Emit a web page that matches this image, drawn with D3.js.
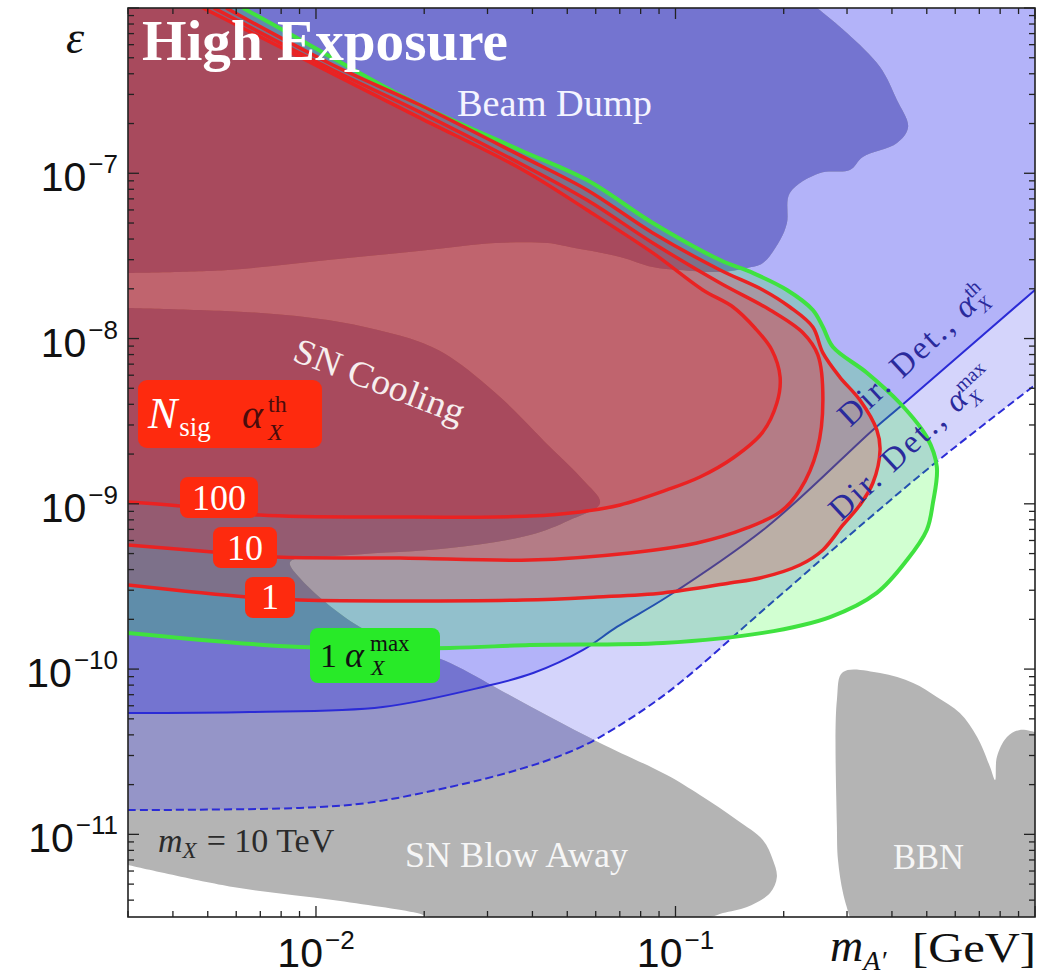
<!DOCTYPE html>
<html><head><meta charset="utf-8">
<script src="https://cdn.jsdelivr.net/npm/d3@7"></script>
<style>body{margin:0;background:#fff}svg{display:block}</style>
</head><body>
<svg id="chart" width="1059" height="979"></svg>
<script>
// ---------- DATA (log10 of m_A' in GeV, log10 of epsilon) ----------
const xDomain = [0.003, 1];
const yDomain = [Math.pow(10, -11.5), 1e-6];
const xMajorTicks = [1e-2, 1e-1];
const xTickExps = ["\u22122", "\u22121"];
const yMajorTicks = [1e-11, 1e-10, 1e-9, 1e-8, 1e-7];
const yTickExps = ["\u221211", "\u221210", "\u22129", "\u22128", "\u22127"];

const contour100 = [[-2.314,-6.000],[-1.947,-6.405],[-1.711,-6.665],[-1.424,-6.980],[-1.246,-7.222],[-1.063,-7.482],[-0.924,-7.706],[-0.840,-7.809],[-0.779,-7.936],[-0.732,-8.069],[-0.709,-8.233],[-0.718,-8.390],[-0.759,-8.571],[-0.840,-8.723],[-0.932,-8.838],[-1.024,-8.916],[-1.154,-9.007],[-1.266,-9.049],[-1.405,-9.074],[-1.766,-9.080],[-2.156,-9.068],[-2.378,-9.013],[-2.523,-8.989]];
const contour10 = [[-2.284,-6.000],[-1.953,-6.375],[-1.711,-6.629],[-1.424,-6.950],[-1.246,-7.162],[-1.063,-7.422],[-0.876,-7.664],[-0.737,-7.827],[-0.645,-7.966],[-0.604,-8.099],[-0.590,-8.372],[-0.606,-8.674],[-0.654,-8.916],[-0.709,-9.049],[-0.801,-9.146],[-0.940,-9.237],[-1.127,-9.297],[-1.405,-9.340],[-1.766,-9.328],[-2.109,-9.322],[-2.287,-9.291],[-2.523,-9.249]];
const contour1 = [[-2.250,-6.000],[-1.953,-6.345],[-1.711,-6.587],[-1.424,-6.901],[-1.246,-7.101],[-1.063,-7.361],[-0.876,-7.585],[-0.757,-7.706],[-0.682,-7.809],[-0.618,-7.930],[-0.590,-8.087],[-0.543,-8.233],[-0.487,-8.372],[-0.440,-8.553],[-0.431,-8.674],[-0.451,-8.874],[-0.487,-9.007],[-0.534,-9.128],[-0.590,-9.279],[-0.654,-9.370],[-0.765,-9.449],[-0.849,-9.479],[-1.035,-9.539],[-1.218,-9.564],[-1.424,-9.582],[-2.045,-9.582],[-2.192,-9.564],[-2.523,-9.491]];
const contourMax = [[-2.203,-6.000],[-2.045,-6.190],[-1.739,-6.557],[-1.433,-6.859],[-1.246,-7.041],[-1.063,-7.301],[-0.876,-7.525],[-0.785,-7.603],[-0.690,-7.706],[-0.618,-7.827],[-0.590,-7.930],[-0.562,-8.051],[-0.467,-8.208],[-0.376,-8.390],[-0.301,-8.596],[-0.273,-8.777],[-0.284,-8.995],[-0.301,-9.158],[-0.356,-9.340],[-0.440,-9.539],[-0.570,-9.685],[-0.757,-9.781],[-1.035,-9.842],[-1.405,-9.854],[-1.627,-9.872],[-2.045,-9.866],[-2.523,-9.781]];
const dirDetTh = [[-2.523,-10.266],[-2.184,-10.260],[-1.814,-10.229],[-1.536,-10.108],[-1.396,-10.024],[-1.257,-9.884],[-1.163,-9.745],[-1.024,-9.564],[-0.746,-9.140],[-0.451,-8.553],[-0.376,-8.414],[0.000,-7.706]];
const dirDetMax = [[-2.523,-10.853],[-2.045,-10.840],[-1.858,-10.810],[-1.627,-10.713],[-1.441,-10.611],[-1.302,-10.508],[-1.210,-10.411],[-1.024,-10.145],[-0.746,-9.624],[-0.467,-9.098],[-0.278,-8.753],[0.000,-8.281]];
const beamDump = [[-0.606,-6.000],[-0.523,-6.151],[-0.431,-6.357],[-0.384,-6.557],[-0.353,-6.720],[-0.384,-6.817],[-0.479,-6.901],[-0.515,-6.980],[-0.598,-6.998],[-0.682,-7.119],[-0.690,-7.301],[-0.709,-7.404],[-0.757,-7.543],[-0.801,-7.573],[-0.876,-7.597],[-0.988,-7.585],[-1.063,-7.567],[-1.154,-7.506],[-1.294,-7.446],[-1.355,-7.422],[-1.502,-7.422],[-1.689,-7.464],[-1.967,-7.525],[-2.245,-7.585],[-2.523,-7.603]];
const snRegion = [[-2.523,-7.815],[-2.153,-7.845],[-1.967,-7.888],[-1.828,-7.948],[-1.711,-8.021],[-1.627,-8.112],[-1.488,-8.354],[-1.349,-8.656],[-1.257,-8.856],[-1.210,-8.995],[-1.294,-9.098],[-1.405,-9.189],[-1.627,-9.267],[-1.906,-9.310],[-2.072,-9.352],[-2.045,-9.449],[-1.878,-9.745],[-1.627,-9.963],[-1.488,-10.126],[-1.349,-10.290],[-1.210,-10.447],[-1.024,-10.641],[-0.932,-10.762],[-0.829,-10.913],[-0.757,-11.034],[-0.729,-11.155],[-0.718,-11.258],[-0.737,-11.355],[-0.801,-11.439],[-0.868,-11.476],[-0.904,-11.500],[-1.683,-11.500],[-1.719,-11.476],[-1.953,-11.397],[-2.231,-11.318],[-2.523,-11.185]];
const bbn = [[-0.515,-11.500],[-0.534,-11.355],[-0.548,-11.155],[-0.551,-10.955],[-0.551,-10.187],[-0.534,-10.018],[-0.431,-10.024],[-0.339,-10.084],[-0.273,-10.169],[-0.209,-10.266],[-0.161,-10.411],[-0.125,-10.592],[-0.111,-10.671],[-0.106,-10.532],[-0.078,-10.411],[-0.042,-10.368],[0.000,-10.381]];

// ---------- SETUP ----------
const svg = d3.select("#chart");
const defs = svg.append("defs");
const X0 = 128, X1 = 1035, Y0 = 8, Y1 = 917;
const x = d3.scaleLog().domain(xDomain).range([X0, X1]);
const y = d3.scaleLog().domain(yDomain).range([Y1, Y0]);
const px = d => x(Math.pow(10, d[0])), py = d => y(Math.pow(10, d[1]));
const smooth = d3.line().x(px).y(py).curve(d3.curveCatmullRom.alpha(0.5));
const lin = pts => pts.map(p => "L" + px(p) + "," + py(p)).join("");
const region = (pts, close) => smooth(pts) + lin(close) + "Z";
const lx0 = Math.log10(xDomain[0]), lx1 = Math.log10(xDomain[1]);
const ly0 = Math.log10(yDomain[0]), ly1 = Math.log10(yDomain[1]);
const TL = [lx0, ly1], TR = [lx1, ly1], BR = [lx1, ly0];

defs.append("clipPath").attr("id", "plotClip").append("rect")
  .attr("x", X0).attr("y", Y0).attr("width", X1 - X0).attr("height", Y1 - Y0);
const pathA = region(dirDetMax, [TR, TL]);
const pathB = region(dirDetTh, [TR, TL]);
defs.append("clipPath").attr("id", "clipA").append("path").attr("d", pathA);
defs.append("clipPath").attr("id", "clipB").append("path").attr("d", pathB);

const plot = svg.append("g").attr("clip-path", "url(#plotClip)");
plot.append("rect").attr("x", X0).attr("y", Y0).attr("width", X1 - X0).attr("height", Y1 - Y0).attr("fill", "#fff");
plot.append("path").attr("d", pathA).attr("fill", "#d4d4fb");
plot.append("path").attr("d", pathB).attr("fill", "#b3b3f9");

const grayPaths = [region(beamDump, [TL]), region(snRegion, []), region(bbn, [BR])];
const grayLayers = [["#b4b4b4", null], ["#9595c8", "url(#clipA)"], ["#7474d0", "url(#clipB)"]];
grayLayers.forEach(([col, clip]) => {
  const g = plot.append("g");
  if (clip) g.attr("clip-path", clip);
  grayPaths.forEach(d => g.append("path").attr("d", d).attr("fill", col));
});

// direct detection lines
plot.append("path").attr("d", smooth(dirDetTh)).attr("fill", "none").attr("stroke", "#2b2bd6").attr("stroke-width", 2);
plot.append("path").attr("d", smooth(dirDetMax)).attr("fill", "none").attr("stroke", "#2b2bd6").attr("stroke-width", 2).attr("stroke-dasharray", "8,4");

// translucent signal regions
plot.append("path").attr("d", region(contourMax, [TL])).attr("fill", "rgb(0,255,0)").attr("fill-opacity", 0.18);
[contour1, contour10, contour100].forEach(c =>
  plot.append("path").attr("d", region(c, [TL])).attr("fill", "rgb(240,8,19)").attr("fill-opacity", 0.206));

plot.append("path").attr("d", smooth(contourMax)).attr("fill", "none").attr("stroke", "#3fe23f").attr("stroke-width", 4);
[contour1, contour10, contour100].forEach(c =>
  plot.append("path").attr("d", smooth(c)).attr("fill", "none").attr("stroke", "#ea2222").attr("stroke-width", 3.5));

// ---------- TEXT IN PLOT ----------
const serif = "'Liberation Serif','DejaVu Serif',serif";
const sans = "'Liberation Sans',Arial,sans-serif";
const ann = svg.append("g").attr("font-family", serif);

ann.append("text").attr("x", 142).attr("y", 60).attr("font-size", 56).attr("font-weight", "bold")
  .attr("fill", "#fff").attr("textLength", 366).attr("lengthAdjust", "spacingAndGlyphs").text("High Exposure");
ann.append("text").attr("x", 457).attr("y", 116).attr("font-size", 38).attr("fill", "#f4f4ff")
  .attr("textLength", 195).attr("lengthAdjust", "spacingAndGlyphs").text("Beam Dump");
ann.append("text").attr("transform", "translate(379,382) rotate(21)").attr("text-anchor", "middle").attr("y", 11)
  .attr("font-size", 36).attr("fill", "#f6eeee").attr("textLength", 180).attr("lengthAdjust", "spacingAndGlyphs").text("SN Cooling");
ann.append("text").attr("x", 405).attr("y", 867).attr("font-size", 36).attr("fill", "#f6f6f6")
  .attr("textLength", 223).attr("lengthAdjust", "spacingAndGlyphs").text("SN Blow Away");
ann.append("text").attr("x", 893).attr("y", 869).attr("font-size", 36).attr("fill", "#f6f6f6")
  .attr("textLength", 71).attr("lengthAdjust", "spacingAndGlyphs").text("BBN");

const mx = ann.append("text").attr("x", 158).attr("y", 852).attr("font-size", 34).attr("fill", "#2b2b2b");
mx.append("tspan").attr("font-style", "italic").text("m");
mx.append("tspan").attr("font-style", "italic").attr("font-size", 23).attr("dy", 6).text("X");
mx.append("tspan").attr("dy", -6).attr("dx", 10).text("= 10 TeV");

function dirLabel(tx, ty, sup) {
  const t = ann.append("text").attr("transform", `translate(${tx},${ty}) rotate(-43)`)
    .attr("font-size", 33).attr("fill", "#2a2a9c");
  t.append("tspan").attr("letter-spacing", 2.5).text("Dir. Det., ");
  t.append("tspan").attr("font-style", "italic").text("\u03b1");
  t.append("tspan").attr("font-style", "italic").attr("font-size", 20).attr("dy", 8).attr("dx", 1).text("X");
  t.append("tspan").attr("font-size", 20).attr("dy", -20).attr("dx", -13).text(sup);
}
dirLabel(850, 428, "th");
dirLabel(841, 522, "max");

// label boxes
const boxRed = "#fe2a0e";
ann.append("rect").attr("x", 138).attr("y", 380).attr("width", 184).attr("height", 68).attr("rx", 9).attr("fill", boxRed);
const ns = ann.append("text").attr("x", 148).attr("y", 428).attr("fill", "#fff");
ns.append("tspan").attr("font-style", "italic").attr("font-size", 44).text("N");
ns.append("tspan").attr("font-size", 27).attr("dy", 8).attr("dx", 2).text("sig");
ann.append("text").attr("x", 242).attr("y", 428).attr("font-size", 40).attr("font-style", "italic").attr("fill", "#4a0c0c").text("\u03b1");
ann.append("text").attr("x", 268).attr("y", 412).attr("font-size", 24).attr("fill", "#4a0c0c").text("th");
ann.append("text").attr("x", 268).attr("y", 440).attr("font-size", 24).attr("font-style", "italic").attr("fill", "#4a0c0c").text("X");

const nBoxes = [["100", 180, 477, 78, 510], ["10", 213, 527, 64, 560], ["1", 245, 577, 50, 609]];
nBoxes.forEach(([lab, bx, by, bw, base]) => {
  ann.append("rect").attr("x", bx).attr("y", by).attr("width", bw).attr("height", 41).attr("rx", 8).attr("fill", boxRed);
  ann.append("text").attr("x", bx + bw / 2).attr("y", base).attr("text-anchor", "middle")
    .attr("font-size", 36).attr("fill", "#fff").text(lab);
});

ann.append("rect").attr("x", 310).attr("y", 628).attr("width", 130).attr("height", 55).attr("rx", 8).attr("fill", "#28ea28");
ann.append("text").attr("x", 320).attr("y", 667).attr("font-size", 34).attr("fill", "#111").text("1");
ann.append("text").attr("x", 345).attr("y", 667).attr("font-size", 36).attr("font-style", "italic").attr("fill", "#111").text("\u03b1");
ann.append("text").attr("x", 370).attr("y", 651).attr("font-size", 23).attr("fill", "#111").text("max");
ann.append("text").attr("x", 371).attr("y", 675).attr("font-size", 22).attr("font-style", "italic").attr("fill", "#111").text("X");

// ---------- FRAME, TICKS, AXIS LABELS ----------
const axes = svg.append("g");
axes.append("rect").attr("x", X0).attr("y", Y0).attr("width", X1 - X0).attr("height", Y1 - Y0)
  .attr("fill", "none").attr("stroke", "#222").attr("stroke-width", 1.6);
const isMajor = v => Math.abs(Math.log10(v) - Math.round(Math.log10(v))) < 1e-6;
y.ticks().forEach(v => {
  const yy = y(v), L = isMajor(v) ? 11 : 6;
  axes.append("line").attr("x1", X0).attr("x2", X0 + L).attr("y1", yy).attr("y2", yy).attr("stroke", "#222").attr("stroke-width", 1.3);
  axes.append("line").attr("x1", X1).attr("x2", X1 - L).attr("y1", yy).attr("y2", yy).attr("stroke", "#222").attr("stroke-width", 1.3);
});
x.ticks().forEach(v => {
  const xx = x(v), L = isMajor(v) ? 11 : 6;
  axes.append("line").attr("x1", xx).attr("x2", xx).attr("y1", Y1).attr("y2", Y1 - L).attr("stroke", "#222").attr("stroke-width", 1.3);
  axes.append("line").attr("x1", xx).attr("x2", xx).attr("y1", Y0).attr("y2", Y0 + L).attr("stroke", "#222").attr("stroke-width", 1.3);
});
yMajorTicks.forEach((v, i) => {
  const t = axes.append("text").attr("x", 118).attr("y", y(v) + 18).attr("text-anchor", "end")
    .attr("font-family", sans).attr("font-size", 41).attr("fill", "#111");
  t.append("tspan").text("10");
  t.append("tspan").attr("font-size", 26).attr("dy", -18).attr("dx", 2).text(yTickExps[i]);
});
xMajorTicks.forEach((v, i) => {
  const t = axes.append("text").attr("x", x(v)).attr("y", 967).attr("text-anchor", "middle")
    .attr("font-family", sans).attr("font-size", 41).attr("fill", "#111");
  t.append("tspan").text("10");
  t.append("tspan").attr("font-size", 26).attr("dy", -18).attr("dx", 2).text(xTickExps[i]);
});
axes.append("text").attr("x", 66).attr("y", 53).attr("font-family", serif).attr("font-style", "italic")
  .attr("font-size", 46).attr("fill", "#111").text("\u03b5");
const xl = axes.append("text").attr("x", 830).attr("y", 961).attr("font-family", serif).attr("fill", "#111");
xl.append("tspan").attr("font-style", "italic").attr("font-size", 46).text("m");
xl.append("tspan").attr("font-style", "italic").attr("font-size", 28).attr("dy", 9).text("A\u2032");
axes.append("text").attr("x", 912).attr("y", 962).attr("font-family", serif).attr("font-size", 42).attr("fill", "#111")
  .attr("textLength", 124).attr("lengthAdjust", "spacingAndGlyphs").text("[GeV]");
</script>
</body></html>
